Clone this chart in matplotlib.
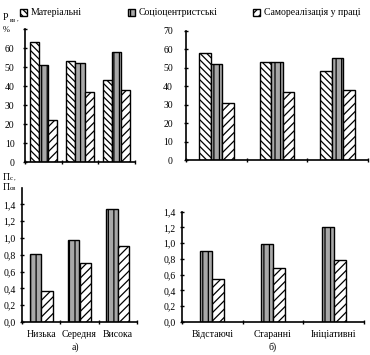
import numpy as np
import matplotlib
matplotlib.use("Agg")
import matplotlib.pyplot as plt
from matplotlib.patches import Rectangle

plt.rcParams['font.family'] = ['Liberation Serif', 'DejaVu Serif']
plt.rcParams['font.size'] = 7
plt.rcParams['hatch.linewidth'] = 0.9

# data
series = ["Матеріальні", "Соціоцентристські", "Самореалізація у праці"]
groups_a = ["Низька", "Середня", "Висока"]
groups_b = ["Відстаючі", "Старанні", "Ініціативні"]
top_a = {"mat": [63, 53, 43], "soc": [51, 52, 58], "self": [22, 37, 38]}
top_b = {"mat": [58, 53, 48], "soc": [52, 53, 55], "self": [31, 37, 38]}
bot_a = {"soc": [0.81, 0.98, 1.34], "self": [0.37, 0.70, 0.90]}
bot_b = {"soc": [0.90, 0.99, 1.20], "self": [0.54, 0.68, 0.78]}

styles = {
    "mat": dict(facecolor="white", hatch="\\\\\\\\\\"),
    "soc": dict(facecolor="#a8a8a8", hatch="|||"),
    "self": dict(facecolor="white", hatch="////"),
}

W, H = 370, 355
fig = plt.figure(figsize=(W / 100, H / 100), dpi=100)


def px_axes(x0, x1, y_top, y_zero):
    return fig.add_axes([x0 / W, 1 - y_zero / H, (x1 - x0) / W, (y_zero - y_top) / H])


def draw(ax, data, keys, width, labels, ylim, yticks, ylabels, ypad):
    n = len(keys)
    x = np.arange(len(labels)) + 0.5
    for i, k in enumerate(keys):
        off = (i - (n - 1) / 2) * width
        ax.bar(x + off, data[k], width, edgecolor="black", linewidth=1.0, **styles[k])
    ax.set_xlim(0, len(labels))
    ax.set_ylim(*ylim)
    for s in ["top", "right"]:
        ax.spines[s].set_visible(False)
    ax.spines["left"].set_linewidth(1.2)
    ax.spines["bottom"].set_linewidth(1.2)
    ax.set_yticks(yticks)
    ax.set_yticklabels(ylabels)
    ax.tick_params(axis="y", length=3, width=1, pad=ypad, direction="inout")
    ax.set_xticks(np.arange(len(labels) + 1))
    ax.set_xticklabels([])
    ax.tick_params(axis="x", length=3, width=1, direction="inout")
    ax.set_xticks(x, minor=True)
    ax.set_xticklabels(labels, minor=True)
    ax.tick_params(axis="x", which="minor", length=0, pad=6)


lab_top = [str(v) for v in range(0, 80, 10)]
ax1 = px_axes(25, 135, 29, 162)
draw(ax1, top_a, ["mat", "soc", "self"], 0.25, ["", "", ""], (0, 70),
     range(0, 80, 10), lab_top[:-1] + [""], 6)
ax2 = px_axes(186, 368, 30.7, 160)
draw(ax2, top_b, ["mat", "soc", "self"], 0.19, ["", "", ""], (0, 70),
     range(0, 80, 10), lab_top, 8)

bt = np.arange(0, 1.5, 0.2)
bl = [f"{v:.1f}".replace(".", ",") for v in bt]
ax3 = px_axes(22, 137, 187.6, 322)
draw(ax3, bot_a, ["soc", "self"], 0.3, groups_a, (0, 1.6), bt, bl, 3)
ax4 = px_axes(182, 364, 211.5, 322)
draw(ax4, bot_b, ["soc", "self"], 0.2, groups_b, (0, 1.4), bt, bl, 3)

# panel captions
fig.text(75 / W, 1 - 347 / H, "а)", ha="center", va="center")
fig.text(273 / W, 1 - 347 / H, "б)", ha="center", va="center")

# axis labels
fig.text(3 / W, 1 - 18 / H, "Р", ha="left", va="center")
fig.text(10 / W, 1 - 20 / H, "вз", fontsize=5, ha="left", va="center")
fig.text(17 / W, 1 - 19 / H, ",", fontsize=5, ha="left", va="center")
fig.text(3 / W, 1 - 30 / H, "%", fontsize=6, ha="left", va="center")
fig.text(3 / W, 1 - 177 / H, "П", ha="left", va="center")
fig.text(10 / W, 1 - 179 / H, "с", fontsize=5, ha="left", va="center")
fig.text(14 / W, 1 - 178 / H, ",", fontsize=5, ha="left", va="center")
fig.text(3 / W, 1 - 187 / H, "П", ha="left", va="center")
fig.text(10 / W, 1 - 189 / H, "св", fontsize=5, ha="left", va="center")

# legend
leg_x = [20, 128, 253]
for name, key, lx in zip(series, ["mat", "soc", "self"], leg_x):
    fig.add_artist(Rectangle((lx / W, 1 - 16 / H), 7 / W, 7 / H, transform=fig.transFigure,
                             edgecolor="black", linewidth=1.0, **styles[key]))
    fig.text((lx + 11) / W, 1 - 12.5 / H, name, ha="left", va="center")

fig.savefig("out.png", dpi=100)
